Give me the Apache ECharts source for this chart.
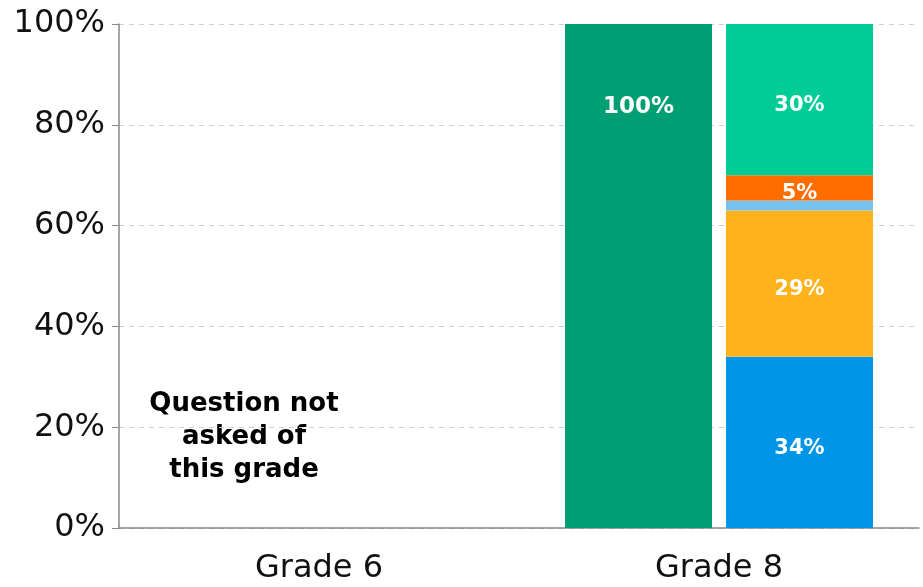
<!DOCTYPE html>
<html>
<head>
<meta charset="utf-8">
<script src="https://cdn.jsdelivr.net/npm/echarts@6/dist/echarts.min.js"></script>
<style>html,body{margin:0;padding:0;background:#fff;}#c{width:923px;height:587px;}</style>
</head>
<body>
<div id="c"></div>
<script>
var categories = ['Grade 6', 'Grade 8'];
var totalValues = ['-', 100];
var seriesNames = ['Blue', 'Yellow', 'Light blue', 'Orange', 'Teal'];
var stackValues = [
  ['-', 34],
  ['-', 29],
  ['-', 2],
  ['-', 5],
  ['-', 30]
];
var stackColors = ['#0095e6', '#feb31c', '#78c1ef', '#ff6d00', '#00cc96'];
var showLabels = [true, true, false, true, true];
var yTicks = [0, 20, 40, 60, 80, 100];
var noteText = 'Question not\nasked of\nthis grade';

var chart = echarts.init(document.getElementById('c'));
var series = [{
  name: 'Total',
  type: 'bar',
  data: totalValues,
  barWidth: 147,
  barGap: '9.5%',
  itemStyle: { color: '#009e73' },
  label: {
    show: true, position: 'insideTop', distance: 72,
    formatter: '{c}%', color: '#fff', fontSize: 23, fontWeight: 'bold',
    fontFamily: 'DejaVu Sans'
  }
}];
stackValues.forEach(function (vals, i) {
  series.push({
    name: seriesNames[i],
    type: 'bar',
    stack: 'b',
    data: vals,
    barWidth: 147,
    barGap: '9.5%',
    itemStyle: { color: stackColors[i] },
    label: {
      show: showLabels[i], position: 'inside', offset: [0, 6],
      formatter: '{c}%', color: '#fff', fontSize: 21, fontWeight: 'bold',
      fontFamily: 'DejaVu Sans'
    }
  });
});

chart.setOption({
  animation: false,
  grid: { left: 119, right: 4, top: 24, bottom: 59, containLabel: false },
  xAxis: {
    type: 'category',
    data: categories,
    axisLine: { lineStyle: { color: '#888', width: 1.5 } },
    axisTick: { show: false },
    axisLabel: { fontSize: 32, color: '#111', fontFamily: 'DejaVu Sans', margin: 25 }
  },
  yAxis: {
    type: 'value',
    min: yTicks[0], max: yTicks[yTicks.length - 1], interval: 20,
    axisLine: { show: true, lineStyle: { color: '#888', width: 1.5 } },
    axisTick: { show: true, length: 7, lineStyle: { color: '#888' } },
    axisLabel: { formatter: '{value}%', fontSize: 32, color: '#111', fontFamily: 'DejaVu Sans', margin: 14 },
    splitLine: { lineStyle: { type: [5, 5], color: '#cfcfcf' } }
  },
  graphic: [{
    type: 'text',
    x: 244, y: 437,
    style: {
      text: noteText,
      align: 'center', verticalAlign: 'middle',
      fontSize: 26, fontWeight: 'bold', fontFamily: 'DejaVu Sans',
      lineHeight: 33, fill: '#000'
    }
  }],
  series: series
});
</script>
</body>
</html>
